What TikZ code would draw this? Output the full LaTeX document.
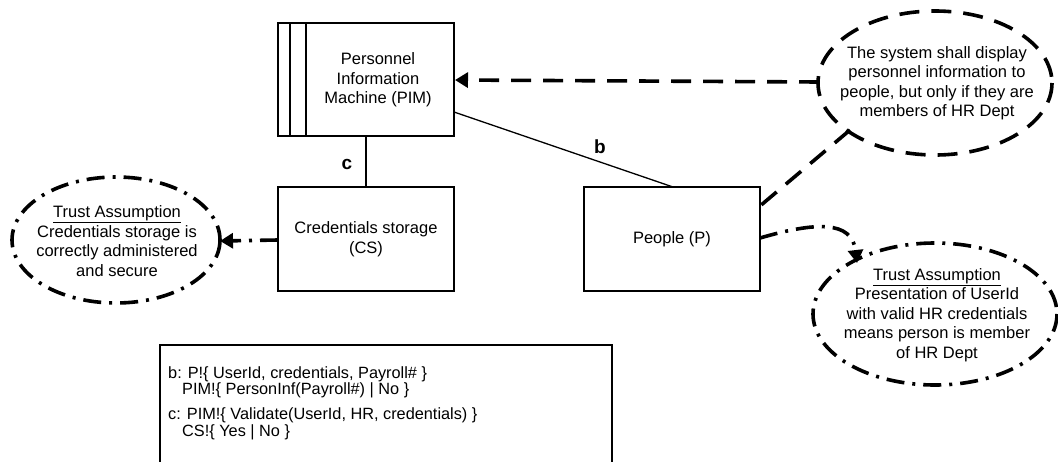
\documentclass[tikz,border=0pt]{standalone}
\usepackage{fontspec}
\setmainfont{Liberation Sans}
\usetikzlibrary{shapes.geometric,arrows.meta}
\begin{document}
\begin{tikzpicture}[x=1pt,y=-1pt,
  box/.style={draw,line width=1.3pt,inner sep=0pt},
  lbl/.style={font=\fontsize{16.5}{19.5}\selectfont,align=center},
  flowlbl/.style={font=\fontsize{19}{20}\selectfont\bfseries},
  bigdash/.style={line width=3.6pt,dash pattern=on 20pt off 12pt},
  dashdot/.style={line width=3.6pt,dash pattern=on 18pt off 8pt on 3pt off 8pt},
  tip/.style={-{Triangle[length=13pt,width=15pt]}}]
\useasboundingbox (0,0) rectangle (1058,461);

% machine, with its two stripes at the left
\node[box,minimum width=176pt,minimum height=113pt] (pim) at (366,79.5) {};
\draw[line width=1.3pt] (290,23) -- (290,136) (306,23) -- (306,136);
\node[lbl] (pimt) at (378,80) {Personnel\\Information\\Machine (PIM)};

% domains
\node[box,minimum width=176pt,minimum height=104pt,lbl] (cs) at (366,239) {Credentials storage\\(CS)};
\node[box,minimum width=176pt,minimum height=104pt,lbl] (p) at (672,239) {People (P)};

% interfaces
\coordinate (pimb) at (366,136);
\coordinate (csb) at (366,187);
\draw[line width=1.3pt] (pimb) -- (csb);
\coordinate (pimr) at (454,112);
\coordinate (ptop) at (673,187);
\draw[line width=1.3pt] (pimr) -- (ptop);
\node[flowlbl] (lc) at (347,164) {c};
\node[flowlbl] (lb) at (600,147) {b};

% requirement
\node[lbl] (req) at (937,83)
  {The system shall display\\personnel information to\\people, but only if they are\\members of HR Dept};
\draw[bigdash] (935,83) ellipse (117 and 72);
\coordinate (reql) at (819,82);
\coordinate (pimm) at (455,80);
\draw[bigdash,tip] (reql) -- (pimm);
\coordinate (reqb) at (850,130);
\coordinate (pr1) at (760,206);
\draw[bigdash] (reqb) -- (pr1);

% trust assumption on CS
\node[lbl] (ta1) at (117,241)
  {\underline{Trust Assumption}\\Credentials storage is\\correctly administered\\and secure};
\draw[dashdot] (116,240) ellipse (104 and 63);
\coordinate (csl) at (278,240);
\coordinate (ta1r) at (220,241);
\draw[dashdot,tip] (csl) -- (ta1r);

% trust assumption on P
\node[lbl] (ta2) at (937,315)
  {\underline{Trust Assumption}\\Presentation of UserId\\with valid HR credentials\\means person is member\\of HR Dept};
\draw[dashdot] (935,314) ellipse (122 and 71);
\coordinate (pr2) at (760,238);
\coordinate (ta2t) at (857,263);
\draw[dashdot,tip] (pr2) .. controls (815,222) and (852,220) .. (ta2t);

% phenomena
\draw[line width=1.3pt] (160,470) -- (160,345) -- (612,345) -- (612,470);
\node[anchor=north west,align=left,inner sep=0pt,font=\fontsize{16.3}{14.5}\selectfont] (ph) at (168,366)
  {b: P!\{ UserId, credentials, Payroll\# \}\\
   \hspace*{14pt}PIM!\{ PersonInf(Payroll\#) | No \}\\[9.5pt]
   c: PIM!\{ Validate(UserId, HR, credentials) \}\\
   \hspace*{14pt}CS!\{ Yes | No \}};
\end{tikzpicture}
\end{document}
